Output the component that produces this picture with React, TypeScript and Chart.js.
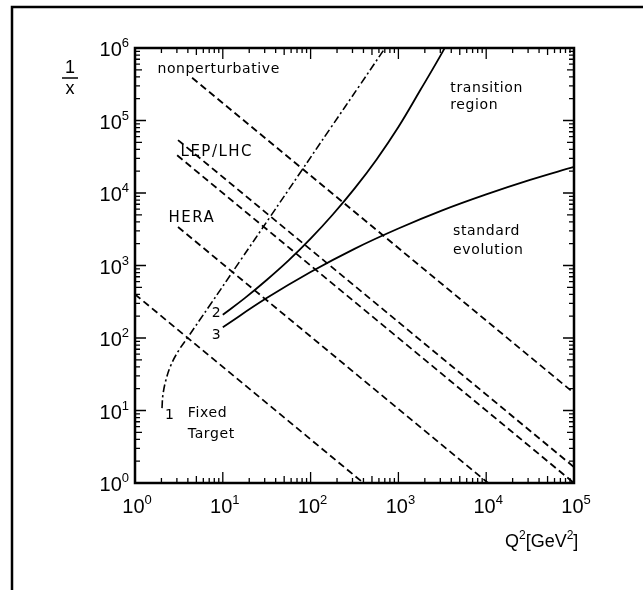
import React, { useEffect, useRef } from "react";
import { Chart, registerables } from "chart.js";
Chart.register(...registerables);

const X_MIN = 1;
const X_MAX = 1e5;
const Y_MIN = 1;
const Y_MAX = 1e6;
const xTickExponents = ["0", "1", "2", "3", "4", "5"];
const yTickExponents = ["0", "1", "2", "3", "4", "5", "6"];

// dash-dot curve "1"
const curve1X = [2.03, 2.08, 2.25, 2.57, 3.17, 4.01, 7.15, 15.7, 34.5, 75.7, 166, 365, 704];
const curve1Y = [10.8, 16.4, 26.3, 42.5, 68.3, 103, 285, 1153, 4667, 18880, 76380, 309000, 1000000];
// solid curve "2"
const curve2X = [10, 17.8, 31.6, 56.2, 100, 178, 316, 562, 1000, 1778, 3162, 5623];
const curve2Y = [209, 355, 631, 1175, 2344, 5012, 11482, 28840, 81283, 263027, 870964, 3162278];
// solid curve "3"
const curve3X = [10, 31.6, 100, 316, 1000, 3162, 10000, 31623, 100000];
const curve3Y = [141, 355, 813, 1698, 3236, 5754, 9550, 15136, 22909];

// dashed lines
const nonpertX = [4.47, 100000];
const nonpertY = [389000, 17.4];
const lepUpperX = [3.09, 100000];
const lepUpperY = [53700, 1.66];
const lepLowerX = [3.02, 100000];
const lepLowerY = [33100, 1];
const heraX = [3.09, 10500];
const heraY = [3390, 1];
const fixedX = [1, 400];
const fixedY = [400, 1];

const labelTexts = ["nonperturbative", "LEP/LHC", "HERA", "transition", "region", "standard", "evolution", "Fixed", "Target", "1", "2", "3"];
const labelX = [1.8, 3.3, 2.4, 3900, 3900, 4200, 4200, 4.0, 4.0, 2.2, 7.5, 7.5];
const labelY = [500000, 37000, 4500, 280000, 160000, 3000, 1600, 9, 4.7, 8.7, 220, 110];

const toPts = (xs: number[], ys: number[]) => xs.map((x, i) => ({ x, y: ys[i] }));

const decorPlugin = {
  id: "decor",
  beforeDraw(chart: any) {
    const ctx = chart.ctx;
    ctx.save();
    ctx.fillStyle = "#fff";
    ctx.fillRect(0, 0, chart.width, chart.height);
    ctx.strokeStyle = "#000";
    ctx.lineWidth = 2.5;
    ctx.beginPath();
    ctx.moveTo(12, chart.height);
    ctx.lineTo(12, 7);
    ctx.lineTo(chart.width, 7);
    ctx.stroke();
    ctx.restore();
  },
  afterDraw(chart: any) {
    const ctx = chart.ctx;
    const xs = chart.scales.x;
    const ys = chart.scales.y;
    const a = chart.chartArea;
    ctx.save();
    ctx.strokeStyle = "#000";
    ctx.fillStyle = "#000";
    ctx.lineWidth = 1.3;
    ctx.beginPath();
    for (let k = 0; k < 6; k++) {
      for (let m = 1; m < 10; m++) {
        const v = m * Math.pow(10, k);
        if (v > X_MAX) continue;
        const px = xs.getPixelForValue(v);
        const len = m === 1 ? 11 : m === 5 ? 7 : 5;
        ctx.moveTo(px, a.bottom);
        ctx.lineTo(px, a.bottom - len);
        ctx.moveTo(px, a.top);
        ctx.lineTo(px, a.top + len);
      }
    }
    for (let k = 0; k < 7; k++) {
      for (let m = 1; m < 10; m++) {
        const v = m * Math.pow(10, k);
        if (v > Y_MAX) continue;
        const py = ys.getPixelForValue(v);
        const len = m === 1 ? 11 : m === 5 ? 7 : 5;
        ctx.moveTo(a.left, py);
        ctx.lineTo(a.left + len, py);
        ctx.moveTo(a.right, py);
        ctx.lineTo(a.right - len, py);
      }
    }
    ctx.stroke();
    ctx.lineWidth = 2.5;
    ctx.strokeRect(a.left, a.top, a.right - a.left, a.bottom - a.top);

    const base = '20px "Liberation Sans", Arial, sans-serif';
    const sup = '13px "Liberation Sans", Arial, sans-serif';
    xTickExponents.forEach((e, i) => {
      const px = xs.getPixelForValue(Math.pow(10, i));
      ctx.font = base;
      const w1 = ctx.measureText("10").width;
      ctx.font = sup;
      const w2 = ctx.measureText(e).width;
      const left = px - (w1 + w2) / 2 + 2;
      ctx.textBaseline = "alphabetic";
      ctx.textAlign = "left";
      ctx.font = base;
      ctx.fillText("10", left, a.bottom + 30);
      ctx.font = sup;
      ctx.fillText(e, left + w1, a.bottom + 21);
    });
    yTickExponents.forEach((e, i) => {
      const py = ys.getPixelForValue(Math.pow(10, i));
      ctx.font = sup;
      const w2 = ctx.measureText(e).width;
      ctx.font = base;
      const w1 = ctx.measureText("10").width;
      const right = a.left - 6;
      ctx.textAlign = "left";
      ctx.textBaseline = "alphabetic";
      ctx.font = base;
      ctx.fillText("10", right - w1 - w2, py + 8);
      ctx.font = sup;
      ctx.fillText(e, right - w2, py - 1);
    });
    ctx.font = '18px "Liberation Sans", Arial, sans-serif';
    ctx.textAlign = "center";
    ctx.textBaseline = "alphabetic";
    ctx.fillText("1", 70, a.top + 25);
    ctx.fillText("x", 70, a.top + 46);
    ctx.lineWidth = 1.5;
    ctx.beginPath();
    ctx.moveTo(62, a.top + 30);
    ctx.lineTo(78, a.top + 30);
    ctx.stroke();
    ctx.textAlign = "left";
    const qx = 505;
    const qy = a.bottom + 64;
    ctx.font = '18px "Liberation Sans", Arial, sans-serif';
    ctx.fillText("Q", qx, qy);
    let w = ctx.measureText("Q").width;
    ctx.font = '12px "Liberation Sans", Arial, sans-serif';
    ctx.fillText("2", qx + w, qy - 8);
    w += ctx.measureText("2").width;
    ctx.font = '18px "Liberation Sans", Arial, sans-serif';
    ctx.fillText("[GeV", qx + w, qy);
    w += ctx.measureText("[GeV").width;
    ctx.font = '12px "Liberation Sans", Arial, sans-serif';
    ctx.fillText("2", qx + w, qy - 8);
    w += ctx.measureText("2").width;
    ctx.font = '18px "Liberation Sans", Arial, sans-serif';
    ctx.fillText("]", qx + w, qy);
    ctx.textBaseline = "middle";
    labelTexts.forEach((t, i) => {
      const upper = t === t.toUpperCase() && /[A-Z]/.test(t);
      ctx.font = upper ? '15px "DejaVu Sans", sans-serif' : '14px "DejaVu Sans", sans-serif';
      (ctx as any).letterSpacing = upper ? "1.5px" : "0.6px";
      ctx.fillText(t, xs.getPixelForValue(labelX[i]), ys.getPixelForValue(labelY[i]));
    });
    (ctx as any).letterSpacing = "0px";
    ctx.restore();
  },
};

export default function App() {
  const ref = useRef<HTMLCanvasElement | null>(null);
  useEffect(() => {
    if (!ref.current) return;
    const dashed = (xs: number[], ys: number[]) => ({
      data: toPts(xs, ys),
      borderColor: "#000",
      borderWidth: 1.8,
      borderDash: [7, 4],
      pointRadius: 0,
      tension: 0,
      fill: false,
    });
    const chart = new Chart(ref.current, {
      type: "line",
      data: {
        datasets: [
          {
            data: toPts(curve1X, curve1Y),
            borderColor: "#000",
            borderWidth: 1.6,
            borderDash: [8, 3, 2, 3],
            pointRadius: 0,
            tension: 0.4,
            fill: false,
          },
          { data: toPts(curve2X, curve2Y), borderColor: "#000", borderWidth: 1.8, pointRadius: 0, tension: 0.4, fill: false },
          { data: toPts(curve3X, curve3Y), borderColor: "#000", borderWidth: 1.8, pointRadius: 0, tension: 0.4, fill: false },
          dashed(nonpertX, nonpertY),
          dashed(lepUpperX, lepUpperY),
          dashed(lepLowerX, lepLowerY),
          dashed(heraX, heraY),
          dashed(fixedX, fixedY),
        ] as any,
      },
      options: {
        animation: false,
        responsive: false,
        layout: { padding: { left: 135, right: 69, top: 48, bottom: 107 } },
        plugins: { legend: { display: false }, tooltip: { enabled: false } },
        scales: {
          x: { type: "logarithmic", min: X_MIN, max: X_MAX, display: false },
          y: { type: "logarithmic", min: Y_MIN, max: Y_MAX, display: false },
        },
      },
      plugins: [decorPlugin],
    });
    return () => chart.destroy();
  }, []);
  return (
    <div style={{ position: "absolute", left: 0, top: 0, width: 643, height: 590 }}>
      <canvas ref={ref} width={643} height={590} style={{ display: "block" }} />
    </div>
  );
}
